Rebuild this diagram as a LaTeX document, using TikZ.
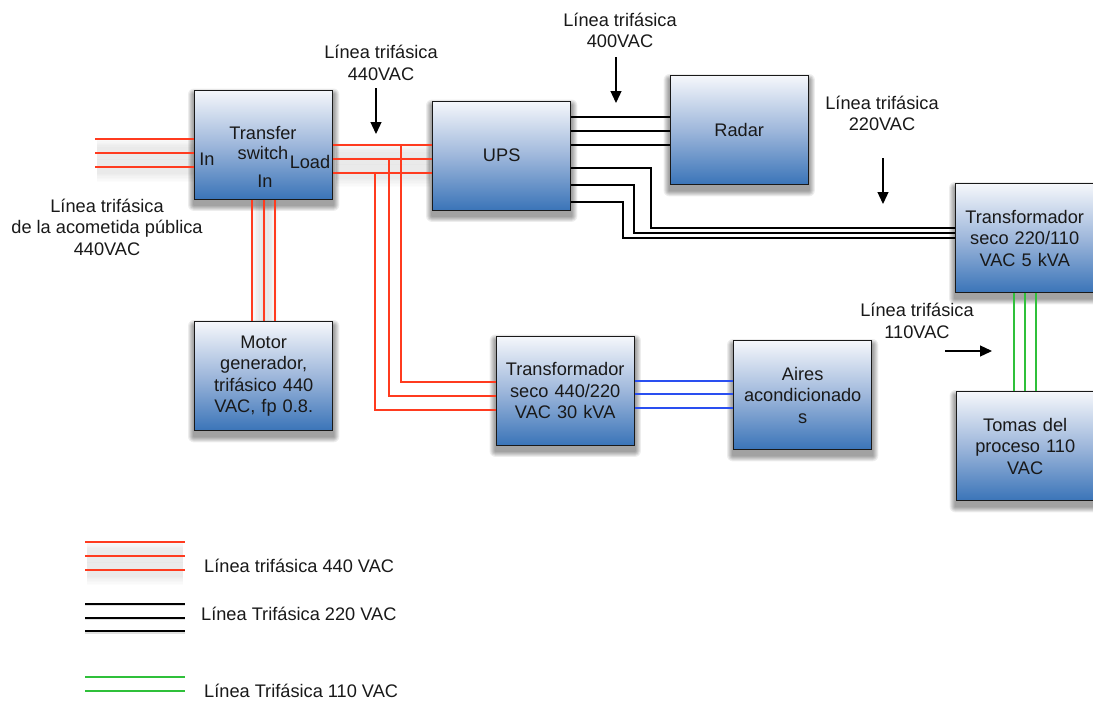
\documentclass[tikz,border=0pt]{standalone}
\usepackage{fontspec}
\setmainfont{Liberation Sans}
\usetikzlibrary{arrows.meta,calc,backgrounds}
\definecolor{wred}{HTML}{FF3B1F}
\definecolor{wblue}{HTML}{2A4FF0}
\definecolor{wgreen}{HTML}{2FC03A}
\definecolor{gtop}{RGB}{245,247,251}
\definecolor{gmid}{RGB}{158,183,219}
\definecolor{gbot}{RGB}{58,116,184}
\tikzset{
  x=1pt,y=-1pt,
  txt/.style={font=\fontsize{18.2}{21.5}\selectfont,align=center,inner sep=0pt,text=black!90},
  blockbox/.style={draw=black!90,line width=1.4pt,top color=gtop,bottom color=gbot,middle color=gmid,
    minimum width=138pt,minimum height=109pt,inner sep=2pt,anchor=north west,text width=132pt,
    font=\fontsize{18.2}{21.5}\selectfont,align=center,text=black!90},
  redw/.style={draw=wred,line width=1.2pt},
  blackw/.style={draw=black,line width=1.2pt},
  bluew/.style={draw=wblue,line width=1.2pt},
  greenw/.style={draw=wgreen,line width=1.2pt},
  pointer/.style={draw=black,line width=1.3pt,-{Triangle[length=12pt,width=11pt]}},
}
\newcommand{\softline}[4]{% x1,y1,x2,y2 soft grey band
  \foreach \w in {16,13,10,7,4}{\draw[black,opacity=.011,line width=\w pt] (#1,#2) -- (#3,#4);}}
\begin{document}
\begin{tikzpicture}
\useasboundingbox (0,0) rectangle (1093,702);
% blocks
\node[blockbox] (tsw) at (194,89.5) {};
\node[blockbox] (ups) at (432,100.5) {UPS};
\node[blockbox] (radar) at (669.5,75) {Radar};
\node[blockbox] (tr2) at (955,183) {\raisebox{16pt}{\parbox{132pt}{\centering Transformador\\seco 220/110\\VAC 5 kVA}}};
\node[blockbox] (tomas) at (955.5,391) {Tomas del\\proceso 110\\VAC};
\node[blockbox] (motor) at (194,321) {\raisebox{-1pt}{\parbox{132pt}{\centering Motor\\generador,\\trifásico 440\\VAC, fp 0.8.}}};
\node[blockbox] (tr1) at (495.5,335.5) {Transformador\\seco 440/220\\VAC 30 kVA};
\node[blockbox] (aires) at (733,340) {\raisebox{1pt}{\parbox{132pt}{\centering Aires\\acondicionado\\s}}};
% soft shadows under blocks and red wires
\begin{scope}[on background layer]
  \fill[white] (0,0) rectangle (1093,702);
  \foreach \n in {tsw,ups,radar,tr2,tomas,motor,tr1,aires}{
    \foreach \r in {6,5,4,3,2,1}{
      \fill[black,opacity=.07,rounded corners=\r pt]
        ($(\n.north west)+(-\r,5-\r)$) rectangle ($(\n.south east)+(\r,5+\r)$);
    }
  }
  \foreach \y in {146,153,160,167,174} {\softline{97}{\y}{194}{\y}}
  \foreach \y in {151,158,165,172,179} {\softline{336}{\y}{430}{\y}}
  \foreach \x in {258,264,270} {\softline{\x}{198}{\x}{321}}
  \foreach \y in {549,556,563,570,577} {\softline{87}{\y}{183}{\y}}
  \foreach \y in {605,619,633} {\draw[black,opacity=.12,line width=1.5pt] (85,\y) -- (185,\y);}
\end{scope}
% small labels in Transfer switch
\node[txt,font=\fontsize{18.2}{20}\selectfont] (tswt) at (263,143) {Transfer\\switch};
\node[txt] (inl) at (207,159) {In};
\node[txt] (load) at (310,162) {Load};
\node[txt] (inb) at (265,181) {In};
% input wires
\coordinate (src1) at (95,139);
\coordinate (src2) at (95,153);
\coordinate (src3) at (95,167);
\foreach \k in {1,2,3} \draw[redw] (src\k) -- (src\k -| tsw.west);
% Transfer to generator
\foreach \x in {252,264,275} \draw[redw] (tsw.south -| \x,0) -- (motor.north -| \x,0);
% Transfer to UPS
\foreach \y in {145,159,173} \draw[redw] (tsw.east |- 0,\y) -- (ups.west |- 0,\y);
% Branches to 440/220 transformer
\draw[redw] (401,145) |- (tr1.west |- 0,382);
\draw[redw] (389,159) |- (tr1.west |- 0,396);
\draw[redw] (375,173) |- (tr1.west |- 0,410);
% Blue
\foreach \y in {381,394,408} \draw[bluew] (tr1.east |- 0,\y) -- (aires.west |- 0,\y);
% UPS to Radar
\foreach \y in {117,131,145} \draw[blackw] (ups.east |- 0,\y) -- (radar.west |- 0,\y);
% UPS to 220/110 transformer
\draw[blackw] (ups.east |- 0,168) -| (651,228) -- (tr2.west |- 0,228);
\draw[blackw] (ups.east |- 0,185) -| (634,233) -- (tr2.west |- 0,233);
\draw[blackw] (ups.east |- 0,202) -| (623,238) -- (tr2.west |- 0,238);
% Green
\foreach \x in {1014,1025,1036} \draw[greenw] (tr2.south -| \x,0) -- (tomas.north -| \x,0);
% pointers
\coordinate (p1a) at (376,88); \coordinate (p1b) at (376,134);
\coordinate (p2a) at (616,57); \coordinate (p2b) at (616,103);
\coordinate (p3a) at (883,158); \coordinate (p3b) at (883,204);
\coordinate (p4a) at (945,351); \coordinate (p4b) at (992,351);
\draw[pointer] (p1a) -- (p1b);
\draw[pointer] (p2a) -- (p2b);
\draw[pointer] (p3a) -- (p3b);
\draw[pointer] (p4a) -- (p4b);
% labels
\node[txt] (l1) at (381,63) {Línea trifásica\\440VAC};
\node[txt] (l2) at (620,30.5) {Línea trifásica\\400VAC};
\node[txt] (l3) at (882,113.5) {Línea trifásica\\220VAC};
\node[txt] (l4) at (917,321) {Línea trifásica\\110VAC};
\node[txt] (l5) at (107,227) {Línea trifásica\\de la acometida pública\\440VAC};
% legend
\coordinate (la1) at (85,542); \coordinate (lb1) at (185,542);
\coordinate (la2) at (85,556); \coordinate (lb2) at (185,556);
\coordinate (la3) at (85,570); \coordinate (lb3) at (185,570);
\foreach \k in {1,2,3} \draw[redw] (la\k) -- (lb\k);
\coordinate (ma1) at (85,604); \coordinate (mb1) at (185,604);
\coordinate (ma2) at (85,618); \coordinate (mb2) at (185,618);
\coordinate (ma3) at (85,631); \coordinate (mb3) at (185,631);
\foreach \k in {1,2,3} \draw[blackw] (ma\k) -- (mb\k);
\coordinate (na1) at (85,677); \coordinate (nb1) at (185,677);
\coordinate (na2) at (85,691); \coordinate (nb2) at (185,691);
\foreach \k in {1,2} \draw[greenw] (na\k) -- (nb\k);
\node[txt,anchor=west] (k1) at (204,566) {Línea trifásica 440 VAC};
\node[txt,anchor=west] (k2) at (201,614) {Línea Trifásica 220 VAC};
\node[txt,anchor=west] (k3) at (204,691) {Línea Trifásica 110 VAC};
\end{tikzpicture}
\end{document}
